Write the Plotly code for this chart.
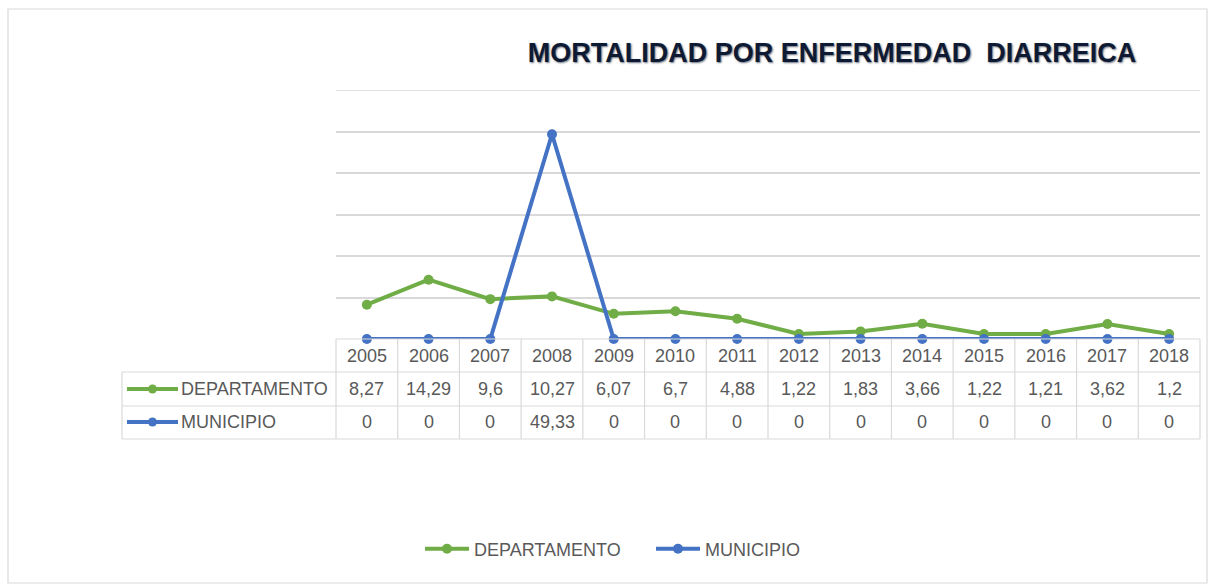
import plotly.graph_objects as go

years = ["2005", "2006", "2007", "2008", "2009", "2010", "2011", "2012",
         "2013", "2014", "2015", "2016", "2017", "2018"]
departamento = [8.27, 14.29, 9.6, 10.27, 6.07, 6.7, 4.88, 1.22, 1.83, 3.66, 1.22, 1.21, 3.62, 1.2]
municipio = [0, 0, 0, 49.33, 0, 0, 0, 0, 0, 0, 0, 0, 0, 0]
series_names = ["DEPARTAMENTO", "MUNICIPIO"]
colors = ["#70AD47", "#4472C4"]
y_max = 60

W, H = 1208, 586
L, R, T, B = 336, 8, 90, 247
pw, ph = W - L - R, H - T - B


def px(x):
    return (x - L) / pw


def py(y):
    return (H - B - y) / ph


def fmt(v):
    return ("%g" % v).replace(".", ",")


fig = go.Figure()
for name, vals, col in zip(series_names, [departamento, municipio], colors):
    fig.add_trace(go.Scatter(
        x=list(range(len(years))), y=vals, name=name, mode="lines+markers",
        line=dict(color=col, width=4), marker=dict(color=col, size=10),
        cliponaxis=False,
    ))

font_family = "Liberation Sans, Arial, sans-serif"
txt_col = "#595959"
grid_col = "#D9D9D9"
fs = 18

shapes = []
annotations = []

# chart outer border
shapes.append(dict(type="rect", xref="paper", yref="paper",
                    x0=px(8), x1=px(1207), y0=py(583), y1=py(9),
                    line=dict(color=grid_col, width=1.2), layer="below"))
# top gridline (at range edge)
shapes.append(dict(type="line", xref="paper", yref="y", x0=0, x1=1, y0=y_max, y1=y_max,
                   line=dict(color=grid_col, width=1.5), layer="below"))

row_tops = [339, 372, 406, 439]
left_x = 122
n = len(years)
shapes.append(dict(type="line", xref="paper", yref="paper", x0=0, x1=1,
                   y0=py(339), y1=py(339), line=dict(color=grid_col, width=1.2)))
for yy in row_tops[1:]:
    shapes.append(dict(type="line", xref="paper", yref="paper", x0=px(left_x), x1=1,
                       y0=py(yy), y1=py(yy), line=dict(color=grid_col, width=1.2)))
for i in range(n + 1):
    shapes.append(dict(type="line", xref="paper", yref="paper", x0=i / n, x1=i / n,
                       y0=py(339), y1=py(439), line=dict(color=grid_col, width=1.2)))
shapes.append(dict(type="line", xref="paper", yref="paper", x0=px(left_x), x1=px(left_x),
                   y0=py(372), y1=py(439), line=dict(color=grid_col, width=1.2)))

for i, yv in enumerate(years):
    annotations.append(dict(x=i, y=py(355.5), xref="x", yref="paper", text=yv,
                            showarrow=False, font=dict(size=fs, color=txt_col, family=font_family),
                            xanchor="center", yanchor="middle"))

row_centers = [389, 422]
for name, vals, col, yc in zip(series_names, [departamento, municipio], colors, row_centers):
    shapes.append(dict(type="line", xref="paper", yref="paper", x0=px(127), x1=px(178),
                       y0=py(yc), y1=py(yc), line=dict(color=col, width=4)))
    shapes.append(dict(type="circle", xref="paper", yref="paper", x0=px(148), x1=px(157),
                       y0=py(yc + 4.5), y1=py(yc - 4.5), fillcolor=col, line=dict(color=col, width=0)))
    annotations.append(dict(x=px(179), y=py(yc), xref="paper", yref="paper", text=name,
                            showarrow=False, font=dict(size=fs, color=txt_col, family=font_family),
                            xanchor="left", yanchor="middle"))
    for i, v in enumerate(vals):
        annotations.append(dict(x=i, y=py(yc), xref="x", yref="paper", text=fmt(v),
                                showarrow=False, font=dict(size=fs, color=txt_col, family=font_family),
                                xanchor="center", yanchor="middle"))

fig.update_layout(
    width=W, height=H,
    margin=dict(l=L, r=R, t=T, b=B),
    paper_bgcolor="white", plot_bgcolor="white",
    title=dict(text="MORTALIDAD POR ENFERMEDAD  DIARREICA", x=px(832), xref="paper",
               xanchor="center", y=1 - 53 / H, yanchor="middle",
               font=dict(size=27, color="#0E1A33", family=font_family, weight="bold",
                         shadow="1px 1px 2px #6b7280")),
    xaxis=dict(range=[-0.5, n - 0.5], showgrid=False, zeroline=False, showticklabels=False,
               showline=False, ticks="", fixedrange=True),
    yaxis=dict(range=[0, y_max], tick0=0, dtick=10, showgrid=True, gridcolor=grid_col, gridwidth=1.5,
               zeroline=False, showticklabels=False, showline=False, ticks="", fixedrange=True),
    showlegend=True,
    legend=dict(orientation="h", x=px(420), xanchor="left", y=py(549), yanchor="middle",
                font=dict(size=fs, color=txt_col, family=font_family), itemwidth=44,
                entrywidth=172, bgcolor="rgba(0,0,0,0)"),
    shapes=shapes, annotations=annotations,
)

fig.write_html("out.html", config={"displayModeBar": False},
               post_script="document.body.style.margin='0';document.body.style.overflow='hidden';")
